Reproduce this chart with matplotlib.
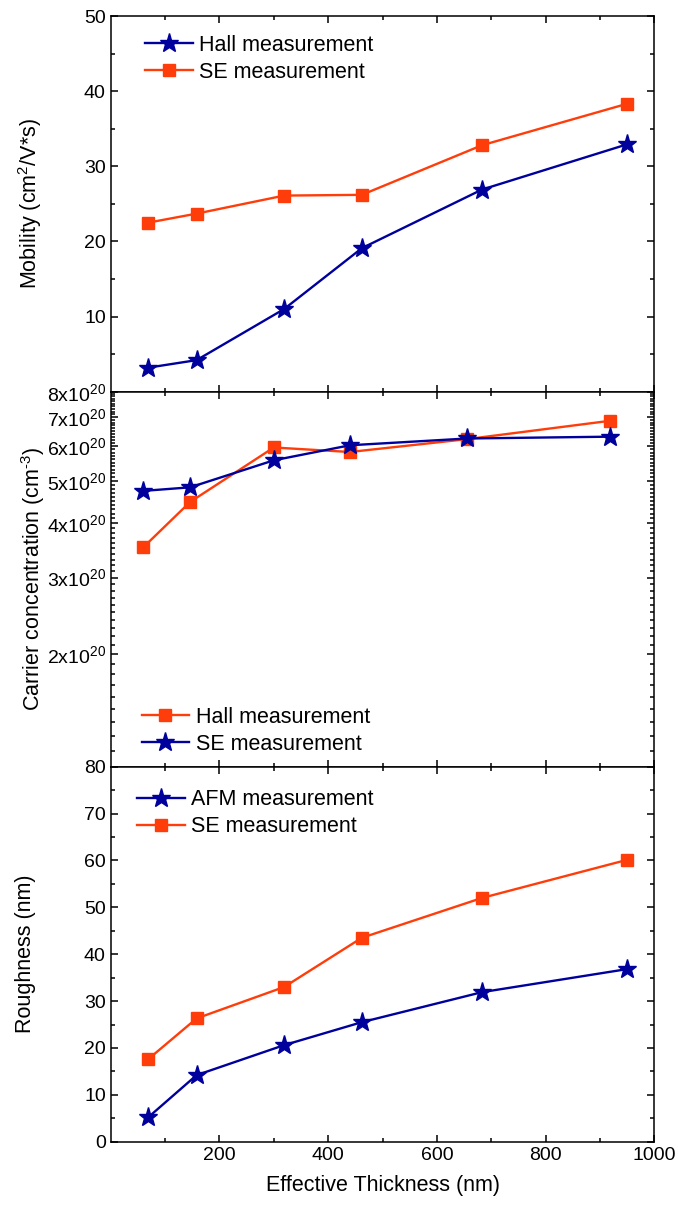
import matplotlib
matplotlib.use("Agg")
import matplotlib.pyplot as plt
from matplotlib.ticker import FixedLocator, FixedFormatter, NullFormatter

plt.rcParams['font.family'] = ['Liberation Sans', 'DejaVu Sans']
plt.rcParams['mathtext.fontset'] = 'custom'
plt.rcParams['mathtext.rm'] = 'Liberation Sans'
plt.rcParams['mathtext.it'] = 'Liberation Sans'
plt.rcParams['mathtext.default'] = 'regular'

# ---- data ----
thick_top = [69, 158, 319, 462, 683, 949]
mob_hall = [3.2, 4.2, 11.0, 19.1, 26.9, 32.9]
mob_se = [22.5, 23.7, 26.1, 26.2, 32.8, 38.3]

thick_mid = [60, 146, 300, 440, 656, 918]
conc_hall = [3.52e20, 4.47e20, 5.96e20, 5.82e20, 6.23e20, 6.86e20]
conc_se = [4.74e20, 4.83e20, 5.57e20, 6.03e20, 6.25e20, 6.31e20]

thick_bot = [69, 158, 319, 462, 683, 949]
rough_afm = [5.2, 14.2, 20.6, 25.5, 31.9, 36.8]
rough_se = [17.6, 26.3, 33.0, 43.5, 52.0, 60.1]

x_major = [200, 400, 600, 800, 1000]
x_minor = [100, 300, 500, 700, 900]
conc_labels = ['2', '3', '4', '5', '6', '7', '8']

BLUE = '#00009C'
ORANGE = '#FF3D0A'

W, H = 678, 1207
fig = plt.figure(figsize=(W / 100, H / 100), dpi=100)

left = 110.7 / W
width = (654.3 - 110.7) / W
def box(top_px, bot_px):
    return [left, 1 - bot_px / H, width, (bot_px - top_px) / H]

ax1 = fig.add_axes(box(16, 391.7))
ax2 = fig.add_axes(box(391.7, 766.7))
ax3 = fig.add_axes(box(766.7, 1141.7))

TICK_FS = 14
LAB_FS = 15.5

for ax in (ax1, ax2, ax3):
    ax.set_xlim(0, 1000)
    ax.xaxis.set_major_locator(FixedLocator(x_major))
    ax.xaxis.set_minor_locator(FixedLocator(x_minor))
    ax.tick_params(which='both', direction='in', top=True, right=True,
                   labelsize=TICK_FS, width=1.1, colors='black')
    ax.tick_params(which='major', length=5)
    ax.tick_params(which='minor', length=3)
    for s in ax.spines.values():
        s.set_linewidth(1.1)

ax1.tick_params(labelbottom=False)
ax2.tick_params(labelbottom=False)

star_kw = dict(marker='*', markersize=14, linewidth=1.7, color=BLUE,
               markeredgecolor=BLUE)
sq_kw = dict(marker='s', markersize=8, linewidth=1.7, color=ORANGE,
             markeredgecolor=ORANGE)

# ---- top ----
ax1.plot(thick_top, mob_hall, label='Hall measurement', **star_kw)
ax1.plot(thick_top, mob_se, label='SE measurement', **sq_kw)
ax1.set_ylim(0, 50)
ax1.yaxis.set_major_locator(FixedLocator([10, 20, 30, 40, 50]))
ax1.yaxis.set_minor_locator(FixedLocator([5, 15, 25, 35, 45]))
ax1.set_ylabel('Mobility (cm$^2$/V*s)', fontsize=LAB_FS)
ax1.yaxis.set_label_coords(-0.122, 0.5)

# ---- middle ----
ax2.plot(thick_mid, conc_hall, label='Hall measurement', **sq_kw)
ax2.plot(thick_mid, conc_se, label='SE measurement', **star_kw)
ax2.set_yscale('log')
ax2.set_ylim(1.106e20, 8e20)
maj = [float(v) * 1e20 for v in conc_labels]
ax2.yaxis.set_major_locator(FixedLocator(maj))
ax2.yaxis.set_major_formatter(FixedFormatter([r'$%sx10^{20}$' % v for v in conc_labels]))
minor_vals = [v * 1e19 for v in range(12, 80) if v % 10 != 0]
ax2.yaxis.set_minor_locator(FixedLocator(minor_vals))
ax2.yaxis.set_minor_formatter(NullFormatter())
ax2.set_ylabel('Carrier concentration (cm$^{\\text{-}3}$)', fontsize=LAB_FS)
ax2.yaxis.set_label_coords(-0.117, 0.5)

# ---- bottom ----
ax3.plot(thick_bot, rough_afm, label='AFM measurement', **star_kw)
ax3.plot(thick_bot, rough_se, label='SE measurement', **sq_kw)
ax3.set_ylim(0, 80)
ax3.yaxis.set_major_locator(FixedLocator(list(range(0, 81, 10))))
ax3.yaxis.set_minor_locator(FixedLocator(list(range(5, 80, 10))))
ax3.set_ylabel('Roughness (nm)', fontsize=LAB_FS)
ax3.yaxis.set_label_coords(-0.137, 0.5)
ax3.set_xlabel('Effective Thickness (nm)', fontsize=LAB_FS, labelpad=8)

leg_kw = dict(frameon=False, fontsize=LAB_FS, handlelength=2.2,
              handletextpad=0.3, labelspacing=0.28, borderpad=0,
              borderaxespad=0, loc='upper left')
ax1.legend(bbox_to_anchor=(0.064, 0.95), **leg_kw)
ax2.legend(bbox_to_anchor=(0.057, 0.16), **leg_kw)
ax3.legend(bbox_to_anchor=(0.049, 0.94), **leg_kw)

fig.savefig('out.png', dpi=100)
